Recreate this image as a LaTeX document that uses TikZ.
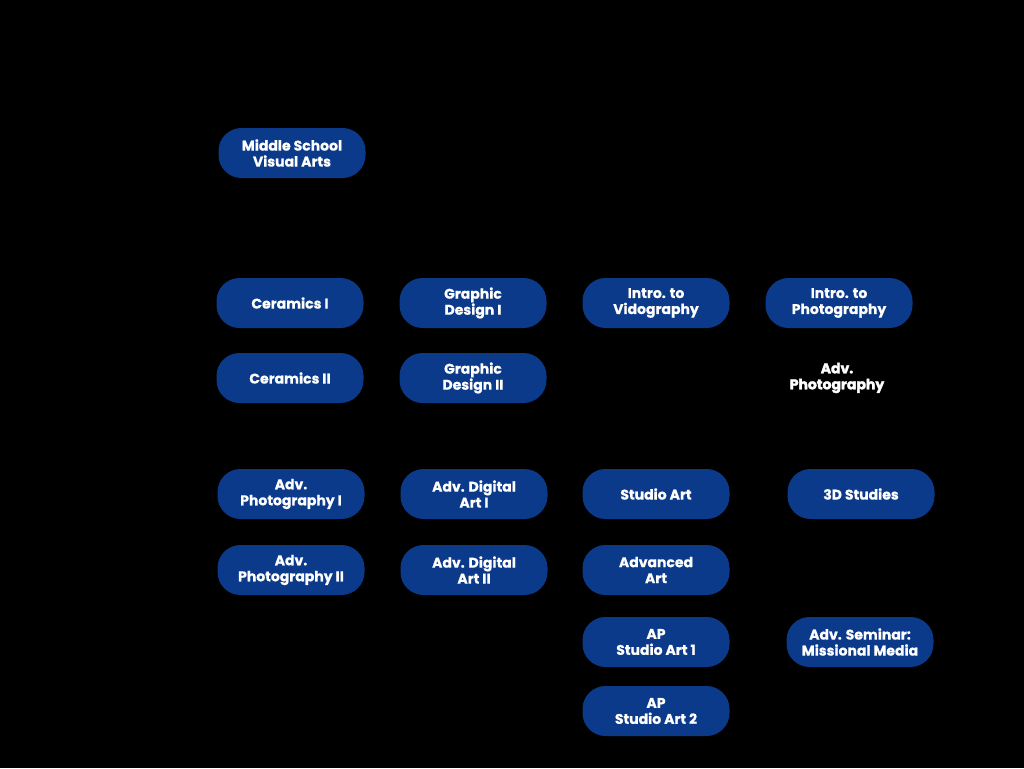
\documentclass[tikz,border=0pt]{standalone}
\usepackage{fontspec}
\setmainfont{Poppins}[BoldFont={* Bold}]
\definecolor{pillblue}{RGB}{12,58,138}
\begin{document}
\begin{tikzpicture}[x=1pt,y=-1pt,
  pill/.style={draw=none,fill=pillblue,rounded corners=23pt,minimum width=147pt,minimum height=50pt,
    text=white,align=center,font=\fontsize{14}{16}\selectfont\bfseries\addfontfeature{FakeBold=0.6},inner sep=0pt},
  plain/.style={text=white,align=center,font=\fontsize{14}{16}\selectfont\bfseries\addfontfeature{FakeBold=2.5},inner sep=0pt}]
\fill[black] (0,0) rectangle (1024,768);
\useasboundingbox (0,0) rectangle (1024,768);
\node[pill] (ms) at (292,153) {Middle School\\Visual Arts};
\node[pill] (cer1) at (290,303) {Ceramics I};
\node[pill] (gd1) at (473,303) {Graphic\\Design I};
\node[pill] (vid) at (656,303) {Intro. to\\Vidography};
\node[pill] (photo) at (839,303) {Intro. to\\Photography};
\node[pill] (cer2) at (290,378) {Ceramics II};
\node[pill] (gd2) at (473,378) {Graphic\\Design II};
\node[plain] (advph) at (837,378) {Adv.\\Photography};
\node[pill] (ap1) at (291,494) {Adv.\\Photography I};
\node[pill] (ada1) at (474,494) {Adv. Digital\\Art I};
\node[pill] (sa) at (656,494) {Studio Art};
\node[pill] (three) at (861,494) {3D Studies};
\node[pill] (ap2) at (291,570) {Adv.\\Photography II};
\node[pill] (ada2) at (474,570) {Adv. Digital\\Art II};
\node[pill] (aa) at (656,570) {Advanced\\Art};
\node[pill] (apsa1) at (656,642) {AP\\Studio Art 1};
\node[pill] (sem) at (860,642) {Adv. Seminar:\\Missional Media};
\node[pill] (apsa2) at (656,711) {AP\\Studio Art 2};
\end{tikzpicture}
\end{document}
